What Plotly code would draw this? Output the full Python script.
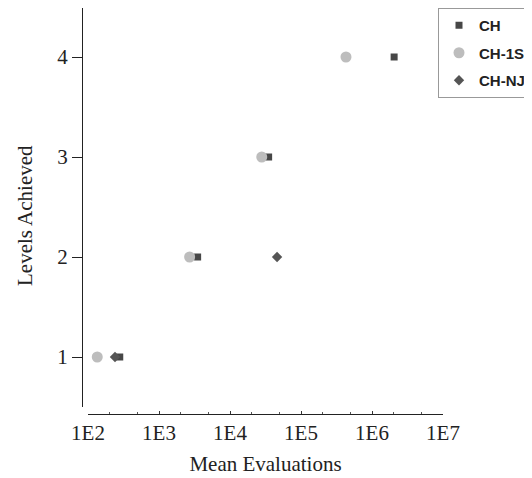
import plotly.graph_objects as go

# Data
ch_levels = [1, 2, 3, 4]
ch_evals = [280, 3500, 35000, 2.05e6]
ch1s_levels = [1, 2, 3, 4]
ch1s_evals = [135, 2700, 28000, 4.3e5]
chnj_levels = [1, 2]
chnj_evals = [240, 46000]

x_tickvals = [1e2, 1e3, 1e4, 1e5, 1e6, 1e7]
x_ticktext = ["1E2", "1E3", "1E4", "1E5", "1E6", "1E7"]
y_tickvals = [1, 2, 3, 4]

# page body has an 8px margin, so figure coords = screen - 8
W, H = 524, 470
ml, mr, mt, mb = 74, 89, 0, 64
pw, ph = W - ml - mr, H - mt - mb

fig = go.Figure()
fig.add_trace(go.Scatter(x=ch_evals, y=ch_levels, mode="markers", name="CH",
                         legendgroup="a",
                         marker=dict(symbol="square", size=7, color="#474747")))
fig.add_trace(go.Scatter(x=ch1s_evals, y=ch1s_levels, mode="markers", name="CH-1S",
                         legendgroup="b",
                         marker=dict(symbol="circle", size=11, color="#bdbdbd")))
fig.add_trace(go.Scatter(x=chnj_evals, y=chnj_levels, mode="markers", name="CH-NJ",
                         legendgroup="c",
                         marker=dict(symbol="diamond", size=8, color="#555555")))

serif = "Liberation Serif, Times New Roman, serif"
fig.update_layout(
    width=W, height=H,
    margin=dict(l=ml, r=mr, t=mt, b=mb, autoexpand=False),
    plot_bgcolor="white", paper_bgcolor="white",
    font=dict(family=serif, size=21, color="#222"),
    xaxis=dict(
        type="log", range=[2, 7], domain=[(80 - ml) / pw, 1],
        anchor="free", position=0,
        tickvals=x_tickvals, ticktext=x_ticktext,
        ticks="inside", ticklen=3, tickcolor="#333",
        minor=dict(ticks="inside", ticklen=2, tickcolor="#555", showgrid=False),
        showline=True, linecolor="#222", linewidth=1,
        showgrid=False, zeroline=False,
        tickfont=dict(family=serif, size=21, color="#222"),
        title=dict(text="Mean Evaluations", standoff=12,
                   font=dict(family=serif, size=21, color="#222")),
    ),
    yaxis=dict(
        range=[0.5, 4.49], domain=[(406 - 399) / ph, 1],
        anchor="free", position=0,
        tickvals=y_tickvals,
        ticks="outside", ticklen=10, tickcolor="#222",
        showline=True, linecolor="#222", linewidth=1,
        showgrid=False, zeroline=False,
        tickfont=dict(family=serif, size=21, color="#222"),
    ),
    annotations=[dict(
        text="Levels Achieved", textangle=-90,
        xref="paper", yref="paper",
        x=(17 - ml) / pw, y=1 - 208 / ph, xanchor="center", yanchor="middle",
        showarrow=False, font=dict(family=serif, size=21, color="#222"),
    )],
    legend=dict(
        x=(430 - ml) / pw, xanchor="left", y=1, yanchor="top",
        bordercolor="#999", borderwidth=1, bgcolor="white",
        font=dict(family="Liberation Sans, Arial, sans-serif", size=15, color="#222", weight="bold"),
        tracegroupgap=5, traceorder="grouped",
    ),
)

fig.write_html("out.html")
